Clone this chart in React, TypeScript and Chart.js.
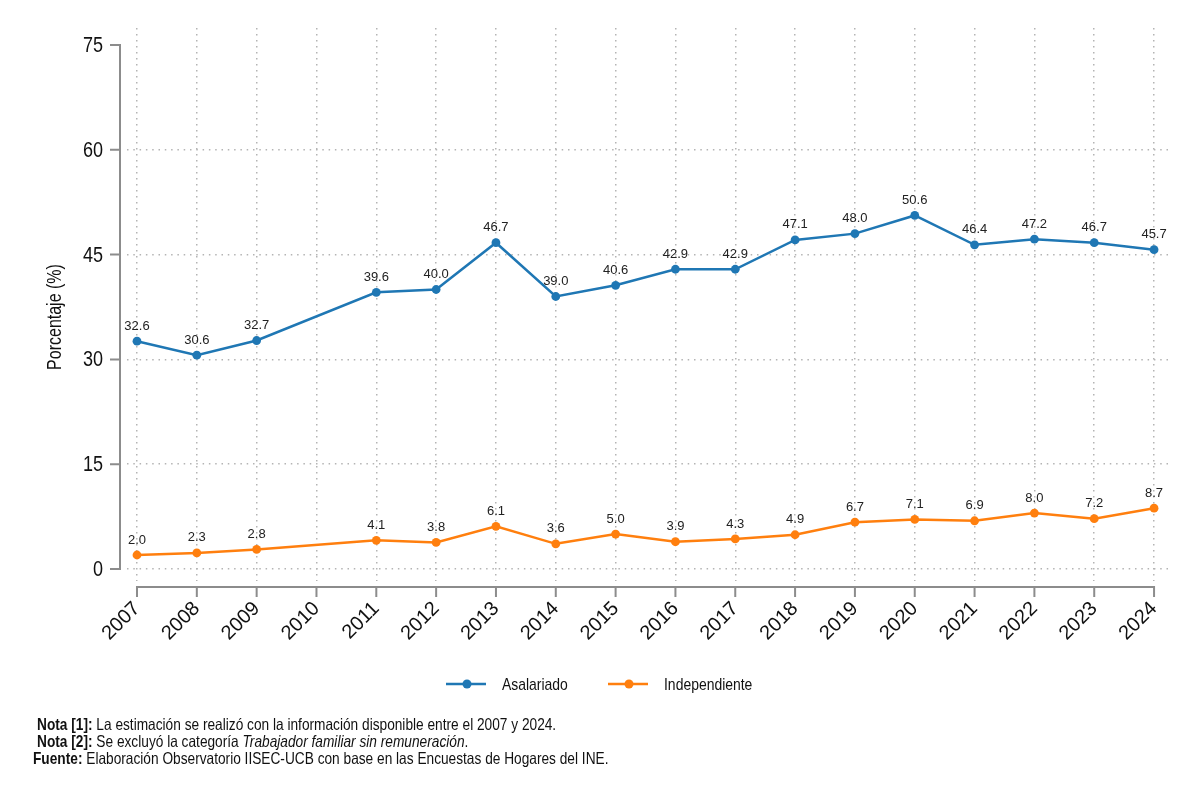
import React, { useEffect, useRef } from "react";
import { Chart, registerables } from "chart.js";

Chart.register(...registerables);

const years = [2007, 2008, 2009, 2010, 2011, 2012, 2013, 2014, 2015, 2016, 2017, 2018, 2019, 2020, 2021, 2022, 2023, 2024];
const asalariado = [32.6, 30.6, 32.7, null, 39.6, 40.0, 46.7, 39.0, 40.6, 42.9, 42.9, 47.1, 48.0, 50.6, 46.4, 47.2, 46.7, 45.7];
const independiente = [2.0, 2.3, 2.8, null, 4.1, 3.8, 6.1, 3.6, 5.0, 3.9, 4.3, 4.9, 6.7, 7.1, 6.9, 8.0, 7.2, 8.7];
const yTicks = [0, 15, 30, 45, 60, 75];
const seriesNames = ["Asalariado", "Independiente"];
const seriesColors = ["#1f77b4", "#ff7f0e"];
const yTitle = "Porcentaje (%)";

const FONT = "'Liberation Sans', Arial, sans-serif";

function narrowText(ctx: any, text: string, x: number, y: number, size: number, sx: number, align: string, rot = 0, bold = false) {
  ctx.save();
  ctx.translate(x, y);
  if (rot) ctx.rotate(rot);
  ctx.scale(sx, 1);
  ctx.font = `${bold ? "bold " : ""}${size}px ${FONT}`;
  ctx.textAlign = align;
  ctx.textBaseline = "middle";
  ctx.fillText(text, 0, 0);
  ctx.restore();
}

const customPlugin = {
  id: "custom",
  afterDatasetsDraw(chart: any) {
    const ctx = chart.ctx;
    ctx.save();
    ctx.font = `13px ${FONT}`;
    ctx.fillStyle = "#222";
    ctx.textAlign = "center";
    ctx.textBaseline = "middle";
    chart.data.datasets.forEach((ds: any, i: number) => {
      const meta = chart.getDatasetMeta(i);
      meta.data.forEach((pt: any, j: number) => {
        const raw = ds.data[j];
        const v = raw && typeof raw === "object" ? raw.y : raw;
        if (v === null || v === undefined || isNaN(v)) return;
        ctx.fillText(Number(v).toFixed(1), pt.x, pt.y - 15);
      });
    });
    ctx.restore();
  },
  afterDraw(chart: any) {
    const ctx = chart.ctx;
    const xs = chart.scales.x;
    const ys = chart.scales.y;
    ctx.save();
    ctx.strokeStyle = "#8c8c8c";
    ctx.lineWidth = 2;
    // y axis
    const yTop = ys.getPixelForValue(yTicks[yTicks.length - 1]);
    const yBot = ys.getPixelForValue(yTicks[0]);
    ctx.beginPath();
    ctx.moveTo(120, yTop);
    ctx.lineTo(120, yBot);
    yTicks.forEach((t) => {
      const p = ys.getPixelForValue(t);
      ctx.moveTo(110, p);
      ctx.lineTo(121, p);
    });
    ctx.stroke();
    // x axis
    const xL = xs.getPixelForValue(years[0]);
    const xR = xs.getPixelForValue(years[years.length - 1]);
    ctx.beginPath();
    ctx.moveTo(xL, 587);
    ctx.lineTo(xR, 587);
    years.forEach((yr) => {
      const p = xs.getPixelForValue(yr);
      ctx.moveTo(p, 586);
      ctx.lineTo(p, 597);
    });
    ctx.stroke();
    // y tick labels
    ctx.fillStyle = "#111";
    yTicks.forEach((t) => {
      narrowText(ctx, String(t), 103, ys.getPixelForValue(t) + 1, 22, 0.82, "right");
    });
    // y title
    narrowText(ctx, yTitle, 56, 317, 19.5, 0.82, "center", -Math.PI / 2);
    ctx.restore();
    // legend
    ctx.save();
    const legendX = [446, 608];
    const ly = 684;
    chart.data.datasets.forEach((ds: any, i: number) => {
      const x0 = legendX[i];
      ctx.strokeStyle = ds.borderColor;
      ctx.lineWidth = 2.5;
      ctx.beginPath();
      ctx.moveTo(x0, ly);
      ctx.lineTo(x0 + 40, ly);
      ctx.stroke();
      ctx.fillStyle = ds.borderColor;
      ctx.beginPath();
      ctx.arc(x0 + 21, ly, 4.5, 0, Math.PI * 2);
      ctx.fill();
      ctx.fillStyle = "#111";
      narrowText(ctx, ds.label, x0 + 56, ly + 1, 17, 0.82, "left");
    });
    ctx.restore();
  },
};

export default function App() {
  const ref = useRef<HTMLCanvasElement | null>(null);
  useEffect(() => {
    document.body.style.margin = "0";
    if (!ref.current) return;
    const chart = new Chart(ref.current, {
      type: "line",
      data: {
        labels: years,
        datasets: [
          {
            label: seriesNames[0],
            data: years.map((x, i) => ({ x, y: asalariado[i] })) as any,
            borderColor: seriesColors[0],
            backgroundColor: seriesColors[0],
            borderWidth: 2.5,
            pointRadius: 4.4,
            pointBorderWidth: 0,
            spanGaps: true,
            tension: 0,
          },
          {
            label: seriesNames[1],
            data: years.map((x, i) => ({ x, y: independiente[i] })) as any,
            borderColor: seriesColors[1],
            backgroundColor: seriesColors[1],
            borderWidth: 2.5,
            pointRadius: 4.4,
            pointBorderWidth: 0,
            spanGaps: true,
            tension: 0,
          },
        ],
      },
      options: {
        animation: false,
        responsive: false,
        maintainAspectRatio: false,
        layout: { padding: { top: 28, right: 28, bottom: 140, left: 0 } },
        plugins: { legend: { display: false }, tooltip: { enabled: false } },
        scales: {
          x: {
            type: "linear",
            min: 2006.833,
            max: 2024.3,
            afterBuildTicks: (s: any) => {
              s.ticks = years.map((v) => ({ value: v }));
            },
            afterFit: (s: any) => {
              s.height = 80;
            },
            grid: {
              color: "#b4b4b4",
              lineWidth: 1.5,
              drawTicks: false,
            },
            border: { display: false, dash: [1.5, 4.5] },
            ticks: {
              autoSkip: false,
              maxRotation: 45,
              minRotation: 45,
              padding: 16,
              color: "#111",
              font: { family: FONT, size: 20 },
              callback: (v: any) => String(v),
            },
          },
          y: {
            min: -1.72,
            max: 77.43,
            afterBuildTicks: (s: any) => {
              s.ticks = yTicks.map((v) => ({ value: v }));
            },
            afterFit: (s: any) => {
              s.width = 127;
            },
            grid: {
              color: (c: any) => (c.tick && c.tick.value === 75 ? "rgba(0,0,0,0)" : "#b4b4b4"),
              lineWidth: 1.5,
              drawTicks: false,
            },
            border: { display: false, dash: [1.5, 4.8] },
            ticks: { display: false },
          },
        },
      },
      plugins: [customPlugin],
    });
    return () => chart.destroy();
  }, []);

  const noteStyle: React.CSSProperties = {
    position: "absolute",
    fontFamily: FONT,
    fontSize: 16.5,
    color: "#111",
    whiteSpace: "nowrap",
    lineHeight: "17px",
    transform: "scaleX(0.83)",
    transformOrigin: "left top",
  };

  return (
    <div style={{ position: "relative", width: 1200, height: 801, background: "#fff" }}>
      <canvas ref={ref} width={1200} height={801} style={{ display: "block" }} />
      <div style={{ ...noteStyle, left: 37, top: 716 }}>
        <b>Nota [1]:</b> La estimación se realizó con la información disponible entre el 2007 y 2024.
      </div>
      <div style={{ ...noteStyle, left: 37, top: 733 }}>
        <b>Nota [2]:</b> Se excluyó la categoría <i>Trabajador familiar sin remuneración</i>.
      </div>
      <div style={{ ...noteStyle, left: 33, top: 750 }}>
        <b>Fuente:</b> Elaboración Observatorio IISEC-UCB con base en las Encuestas de Hogares del INE.
      </div>
    </div>
  );
}
